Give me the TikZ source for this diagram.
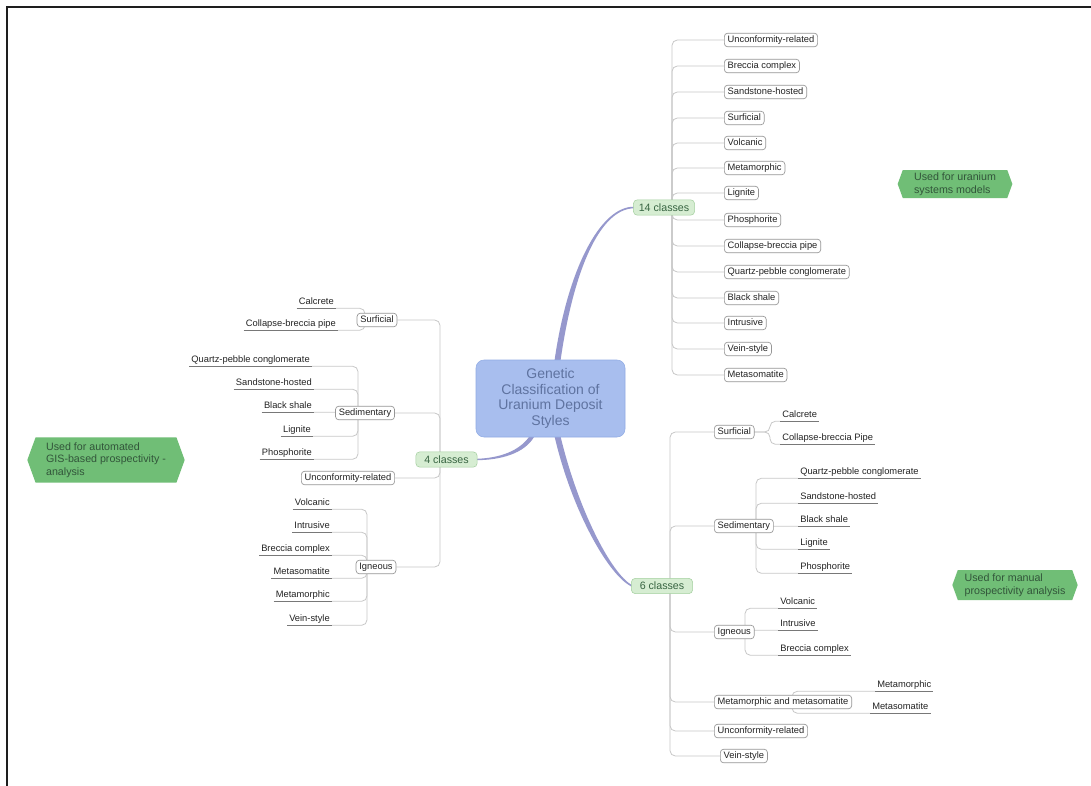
\documentclass[tikz,border=0pt]{standalone}
\usepackage{fontspec}
\setmainfont{Liberation Sans}
\usetikzlibrary{shapes.symbols,calc}
\pgfdeclarelayer{background}
\pgfsetlayers{background,main}
\definecolor{connc}{RGB}{200,200,200}
\definecolor{ulc}{RGB}{120,120,120}
\definecolor{boxc}{RGB}{150,150,150}
\definecolor{txtc}{RGB}{35,35,35}
\definecolor{ctrf}{RGB}{168,190,238}
\definecolor{ctrd}{RGB}{145,172,228}
\definecolor{ctrt}{RGB}{95,115,160}
\definecolor{clsf}{RGB}{214,237,210}
\definecolor{clsd}{RGB}{165,208,160}
\definecolor{clst}{RGB}{55,100,65}
\definecolor{calf}{RGB}{112,190,118}
\definecolor{calt}{RGB}{50,85,58}
\definecolor{mainc}{RGB}{150,152,205}
\definecolor{framec}{RGB}{30,30,30}
\begin{document}
\begin{tikzpicture}[x=0.75pt,y=-0.75pt,
  conn/.style={draw=connc, line width=0.6pt, rounded corners=4pt},
  uline/.style={draw=ulc, line width=0.6pt},
  box/.style={draw=boxc, fill=white, rounded corners=2.5pt, line width=0.5pt,
    font=\fontsize{7}{8}\selectfont, text=txtc, inner xsep=2.5pt, inner ysep=1.6pt,
    text height=5.4pt, text depth=1.6pt},
  leaf/.style={font=\fontsize{7}{8}\selectfont, text=txtc, inner xsep=1.5pt, inner ysep=1pt,
    text height=5.4pt, text depth=1.6pt},
  ctr/.style={draw=ctrd, fill=ctrf, rounded corners=6pt, text=ctrt, align=center,
    font=\fontsize{10.5}{11.8}\selectfont, minimum width=111.75pt, minimum height=57.75pt},
  cls/.style={draw=clsd, fill=clsf, rounded corners=3pt, font=\fontsize{8}{9}\selectfont,
    text=clst, minimum width=46pt, minimum height=11.5pt, inner sep=1pt},
  callout/.style={signal, signal to=west and east, signal pointer angle=140, fill=calf,
    text=calt, font=\fontsize{8}{9.5}\selectfont, align=left, inner sep=2pt},
  mainline/.style={fill=mainc},
  frame/.style={draw=framec, line width=1.4pt}]
\useasboundingbox (0,0) rectangle (1091,785);
\draw[frame] (7,786) -- (7,7) -- (1092,7);

% centre and classes
\node[ctr] (ctr) at (550.5,398.5) {Genetic\\Classification of\\Uranium Deposit\\Styles};
\node[cls] (c14) at (664,207.5) {14 classes};
\node[cls] (c4) at (446.5,459.5) {4 classes};
\node[cls] (c6) at (662,586) {6 classes};

\coordinate (T14) at (672,207);
\coordinate (T6) at (670,586);
\coordinate (T4) at (440,460);

% 14 classes
\foreach \n/\y/\t in {u1/40/Unconformity-related, u2/66/Breccia complex, u3/92/Sandstone-hosted,
  u4/118/Surficial, u5/143/Volcanic, u6/168/Metamorphic, u7/193/Lignite, u8/220/Phosphorite,
  u9/246/Collapse-breccia pipe, u10/272/Quartz-pebble conglomerate, u11/298/Black shale,
  u12/323/Intrusive, u13/349/Vein-style, u14/375/Metasomatite}
  {\node[box,anchor=west] (\n) at (724,\y) {\t};}

% 6 classes
\node[box,anchor=west] (r6surf) at (714,432) {Surficial};
\node[box,anchor=west] (r6sed) at (714,526) {Sedimentary};
\node[box,anchor=west] (r6ign) at (714,632) {Igneous};
\node[box,anchor=west] (r6mm) at (714,702) {Metamorphic and metasomatite};
\node[box,anchor=west] (r6unc) at (714,731) {Unconformity-related};
\node[box,anchor=west] (r6vein) at (720,756) {Vein-style};
\foreach \n/\x/\y/\t in {r6calc/780/415/Calcrete, r6coll/780/438/Collapse-breccia Pipe,
  r6qpc/798/472/Quartz-pebble conglomerate, r6sst/798/497/Sandstone-hosted,
  r6bsh/798/520/Black shale, r6lig/798/543/Lignite, r6pho/798/567/Phosphorite,
  r6vol/778/602/Volcanic, r6int/778/624/Intrusive, r6bre/778/649/Breccia complex,
  r6met/875/685/Metamorphic, r6mso/870/707/Metasomatite}
  {\node[leaf,anchor=west] (\n) at (\x,\y) {\t};
   \draw[uline] (\n.south west) -- (\n.south east);}

% 4 classes
\node[box] (l4surf) at (377,320) {Surficial};
\node[box] (l4sed) at (365,413) {Sedimentary};
\node[box] (l4unc) at (348,478) {Unconformity-related};
\node[box] (l4ign) at (376,567) {Igneous};
\foreach \n/\x/\y/\t in {l4calc/336/302/Calcrete, l4coll/338/324/Collapse-breccia pipe,
  l4qpc/312/360/Quartz-pebble conglomerate, l4sst/314/383/Sandstone-hosted,
  l4bsh/314/406/Black shale, l4lig/313/430/Lignite, l4pho/314/453/Phosphorite,
  l4vol/332/503/Volcanic, l4int/332/526/Intrusive, l4bre/332/549/Breccia complex,
  l4mso/332/572/Metasomatite, l4met/332/595/Metamorphic, l4vein/332/619/Vein-style}
  {\node[leaf,anchor=east] (\n) at (\x,\y) {\t};
   \draw[uline] (\n.south west) -- (\n.south east);}

% callouts
\node[callout, minimum width=118pt, minimum height=34pt] (nA) at (106,460)
  {Used for automated\\GIS-based prospectivity -\\analysis};
\node[callout, minimum width=86pt, minimum height=21pt] (nB) at (955,184)
  {Used for uranium\\systems models};
\node[callout, minimum width=94pt, minimum height=22.5pt] (nC) at (1015,585)
  {Used for manual\\prospectivity analysis};

\begin{pgfonlayer}{background}
  \fill[white] (0,0) rectangle (1091,785);
  % main tapered branches
  \fill[mainline] ($(ctr.north)+(4,1)$) .. controls ($(ctr.north)+(17,-90)$) and ($(c14.west)+(-33,-1.2)$) .. ($(c14.west)+(1,-0.8)$)
    -- ($(c14.west)+(1,0.8)$) .. controls ($(c14.west)+(-33,1.2)$) and ($(ctr.north)+(23,-90)$) .. ($(ctr.north)+(10,1)$) -- cycle;
  \fill[mainline] ($(ctr.south)+(4,-1)$) .. controls ($(ctr.south)+(21.5,74)$) and ($(c6.west)+(-22,-9.5)$) .. ($(c6.west)+(1,0.8)$)
    -- ($(c6.west)+(1,-0.8)$) .. controls ($(c6.west)+(-20,-12.5)$) and ($(ctr.south)+(27.5,72)$) .. ($(ctr.south)+(10,-1)$) -- cycle;
  \fill[mainline] ($(ctr.south)+(-21,-1)$) .. controls ($(ctr.south)+(-31,13.5)$) and ($(c4.east)+(23,-1.5)$) .. ($(c4.east)+(-1,-0.7)$)
    -- ($(c4.east)+(-1,0.7)$) .. controls ($(c4.east)+(23,0.5)$) and ($(ctr.south)+(-26,16.5)$) .. ($(ctr.south)+(-16,-1)$) -- cycle;

  % 14 classes branches
  \foreach \n in {u1,u2,u3,u4,u5,u6,u7,u8,u9,u10,u11,u12,u13,u14}
    {\draw[conn] (c14.center) -- (c14.center -| T14) |- (\n.west);}

  % 6 classes branches
  \foreach \n in {r6surf,r6sed,r6ign,r6mm,r6unc,r6vein}
    {\draw[conn] (c6.center) -- (c6.center -| T6) |- (\n.west);}
  \coordinate (J1) at (770,0);
  \foreach \n in {r6calc,r6coll}
    {\draw[conn] (r6surf.center) -- (r6surf.center -| J1) |- (\n.south west);}
  \coordinate (J2) at (756,0);
  \foreach \n in {r6qpc,r6sst,r6bsh,r6lig,r6pho}
    {\draw[conn] (r6sed.center) -- (r6sed.center -| J2) |- (\n.south west);}
  \coordinate (J3) at (745,0);
  \foreach \n in {r6vol,r6int,r6bre}
    {\draw[conn] (r6ign.center) -- (r6ign.center -| J3) |- (\n.south west);}
  \coordinate (J4) at (792,0);
  \foreach \n in {r6met,r6mso}
    {\draw[conn] (r6mm.center) -- (r6mm.center -| J4) |- (\n.south west);}

  % 4 classes branches
  \foreach \n in {l4surf,l4sed,l4unc,l4ign}
    {\draw[conn] (c4.center) -- (c4.center -| T4) |- (\n.east);}
  \coordinate (K1) at (365,0);
  \foreach \n in {l4calc,l4coll}
    {\draw[conn] (l4surf.center) -- (l4surf.center -| K1) |- (\n.south east);}
  \coordinate (K2) at (358,0);
  \foreach \n in {l4qpc,l4sst,l4bsh,l4lig,l4pho}
    {\draw[conn] (l4sed.center) -- (l4sed.center -| K2) |- (\n.south east);}
  \coordinate (K3) at (367,0);
  \foreach \n in {l4vol,l4int,l4bre,l4mso,l4met,l4vein}
    {\draw[conn] (l4ign.center) -- (l4ign.center -| K3) |- (\n.south east);}
\end{pgfonlayer}
\end{tikzpicture}
\end{document}
